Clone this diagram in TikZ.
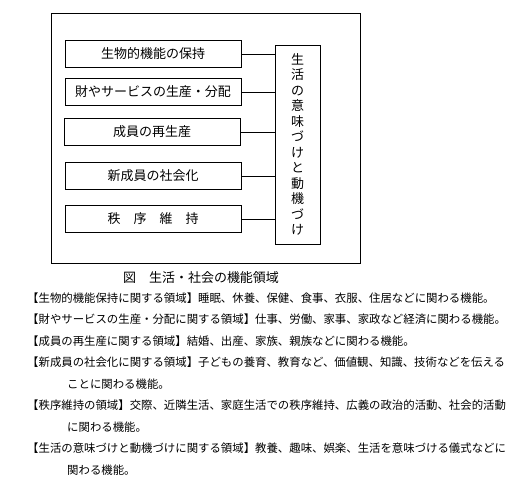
\documentclass[tikz,border=0pt]{standalone}
\usepackage{fontspec}
\setmainfont{Noto Sans CJK JP}
\usetikzlibrary{positioning}

\begin{document}
\begin{tikzpicture}[x=1pt,y=-1pt,
    funcion/.style={draw, line width=0.8pt, minimum width=176pt, minimum height=27pt,
      inner sep=0pt, font=\fontsize{13}{15}\selectfont},
    sentido/.style={draw, line width=0.8pt, minimum width=45pt, minimum height=199pt,
      align=center, font=\fontsize{13}{15.5}\selectfont},
    linea/.style={anchor=west, inner sep=0pt, font=\fontsize{11.4}{13}\selectfont}]
  \useasboundingbox (0,0) rectangle (512,487);
  % Marco
  \draw[line width=0.8pt] (51,13) rectangle (360,263);
  % Funciones
  \node[funcion] (f1) at (153,54) {生物的機能の保持};
  \node[funcion] (f2) at (153,92) {財やサービスの生産・分配};
  \node[funcion] (f3) at (152,132) {成員の再生産};
  \node[funcion] (f4) at (153,176) {新成員の社会化};
  \node[funcion] (f5) at (153,219) {秩　序　維　持};
  \node[sentido] (sent) at (297.5,144.5) {生\\活\\の\\意\\味\\づ\\け\\と\\動\\機\\づ\\け};
  \foreach \f in {f1,f2,f3,f4,f5}
    \draw[line width=0.8pt] (\f.east) -- (\f.east -| sent.west);

  % Titulo
  \node[font=\fontsize{13}{15}\selectfont] (titulo) at (201,278) {図　生活・社会の機能領域};

  % Texto
  \node[linea] (t1) at (27,298) {【生物的機能保持に関する領域】睡眠、休養、保健、食事、衣服、住居などに関わる機能。};
  \node[linea] (t2) at (27,319.5) {【財やサービスの生産・分配に関する領域】仕事、労働、家事、家政など経済に関わる機能。};
  \node[linea] (t3) at (27,341) {【成員の再生産に関する領域】結婚、出産、家族、親族などに関わる機能。};
  \node[linea] (t4) at (27,362.5) {【新成員の社会化に関する領域】子どもの養育、教育など、価値観、知識、技術などを伝える};
  \node[linea] (t4b) at (67,384) {ことに関わる機能。};
  \node[linea] (t5) at (27,405.5) {【秩序維持の領域】交際、近隣生活、家庭生活での秩序維持、広義の政治的活動、社会的活動};
  \node[linea] (t5b) at (67,427) {に関わる機能。};
  \node[linea] (t6) at (27,448.5) {【生活の意味づけと動機づけに関する領域】教養、趣味、娯楽、生活を意味づける儀式などに};
  \node[linea] (t6b) at (67,470) {関わる機能。};
\end{tikzpicture}
\end{document}
